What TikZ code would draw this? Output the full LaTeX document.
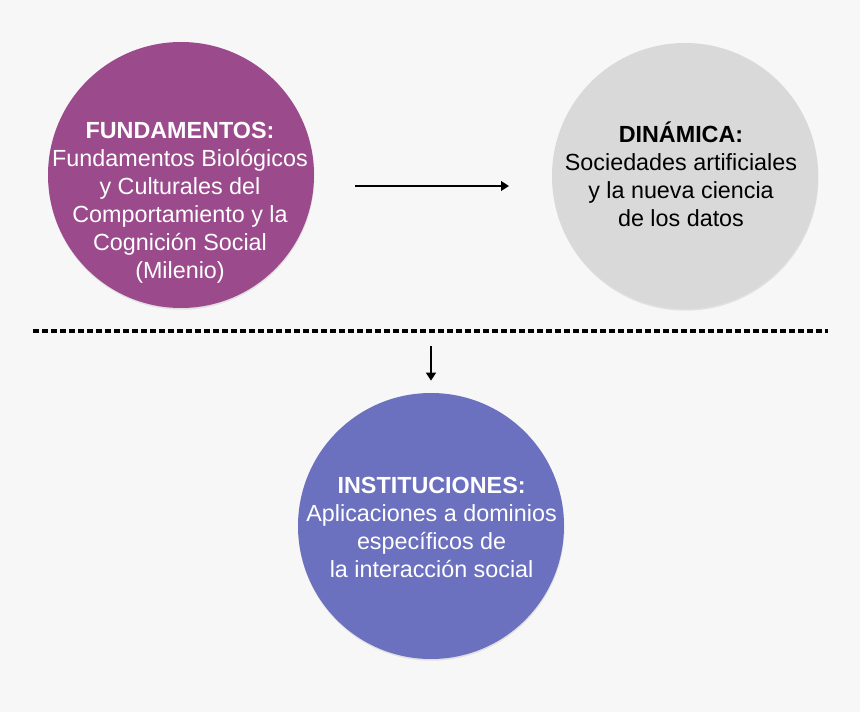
\documentclass[tikz,border=0pt]{standalone}
\usepackage{fontspec}
\setmainfont{Liberation Sans}
\usetikzlibrary{arrows.meta,shadows}
\definecolor{fundcolor}{RGB}{155,74,139}
\definecolor{dyncolor}{RGB}{217,217,217}
\definecolor{instcolor}{RGB}{107,112,191}
\definecolor{bgcolor}{RGB}{247,247,247}

\begin{document}
\begin{tikzpicture}[
	bubble/.style={circle, minimum size=6.65cm, inner sep=0pt, drop shadow={shadow xshift=0.3pt, shadow yshift=-1.2pt, opacity=0.18}},
	bubbletext/.style={align=center, font=\fontsize{16.6}{19.9}\selectfont},
	arr/.style={line width=2pt, -{Triangle[length=0.2cm, width=0.24cm]}}
]
	\fill[bgcolor] (0,0) rectangle (21.5,17.8);
	\useasboundingbox (0,0) rectangle (21.5,17.8);

	\node[bubble, fill=fundcolor] (fund) at (4.525, 13.425) {};
	\node[bubble, fill=dyncolor] (dyn) at (17.125, 13.4) {};
	\node[bubble, fill=instcolor] (inst) at (10.775, 4.65) {};

	\node[bubbletext, text=white] (fundtext) at (4.5, 12.72) {\textbf{FUNDAMENTOS:}\\ Fundamentos Biológicos\\ y Culturales del\\ Comportamiento y la\\ Cognición Social\\ (Milenio)};
	\node[bubbletext, text=black] (dyntext) at (17.025, 13.45) {\textbf{DINÁMICA:}\\ Sociedades artificiales\\ y la nueva ciencia\\ de los datos};
	\node[bubbletext, text=white] (insttext) at (10.79, 4.62) {\textbf{INSTITUCIONES:}\\ Aplicaciones a dominios\\ específicos de\\ la interacción social};

	\draw[line width=2.4pt, dash pattern=on 0.15cm off 0.075cm] (0.825, 9.525) -- (20.7, 9.525);

	\coordinate (flowS) at (8.875, 13.15);
	\coordinate (flowE) at (12.725, 13.15);
	\coordinate (downS) at (10.775, 9.15);
	\draw[arr] (flowS) -- (flowE);
	\draw[arr] (downS) -- ([yshift=0.3cm]inst.north);

\end{tikzpicture}
\end{document}
